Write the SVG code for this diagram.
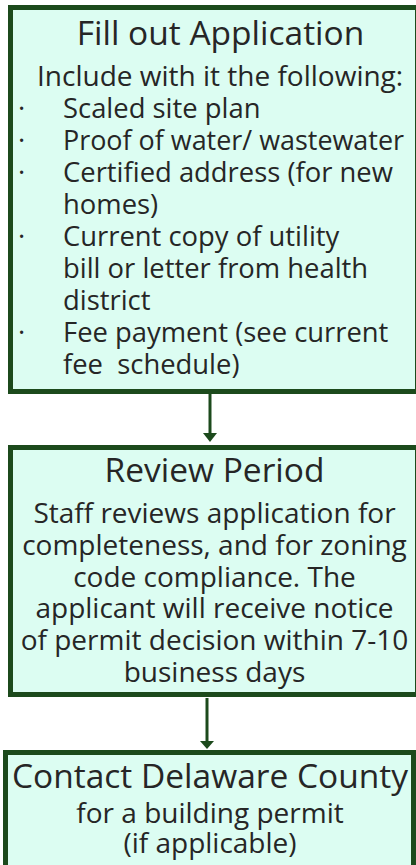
<svg xmlns="http://www.w3.org/2000/svg" width="416" height="865" viewBox="0 0 416 865">
  <style>
    .box { fill: #dcfdf2; stroke: #1c4a1c; stroke-width: 5; }
    .title { font-family: "Open Sans", "Liberation Sans", sans-serif; font-size: 33.5px; fill: #262626; text-anchor: middle; }
    .body { font-family: "Open Sans", "Liberation Sans", sans-serif; font-size: 28px; fill: #262626; }
    .li { font-size: 27.4px; }
    .c { text-anchor: middle; }
    .conn { stroke: #1c4a1c; stroke-width: 3; fill: none; }
    .head { fill: #1c4a1c; }
  </style>
  <rect width="416" height="865" fill="#ffffff"/>

  <g id="node-application">
    <rect class="box" x="10.5" y="7.5" width="407" height="384"/>
    <text class="title" x="220.5" y="45">Fill out Application</text>
    <text class="body" x="37" y="86">Include with it the following:</text>
    <text class="body li" x="18" y="118">·</text>
    <text class="body li" x="63" y="118">Scaled site plan</text>
    <text class="body li" x="18" y="150">·</text>
    <text class="body li" x="63" y="150" textLength="341" lengthAdjust="spacingAndGlyphs">Proof of water/ wastewater</text>
    <text class="body li" x="18" y="182">·</text>
    <text class="body li" x="63" y="182">Certified address (for new</text>
    <text class="body li" x="63" y="214">homes)</text>
    <text class="body li" x="18" y="246">·</text>
    <text class="body li" x="63" y="246">Current copy of utility</text>
    <text class="body li" x="63" y="278">bill or letter from health</text>
    <text class="body li" x="63" y="310">district</text>
    <text class="body li" x="18" y="342">·</text>
    <text class="body li" x="63" y="342">Fee payment (see current</text>
    <text class="body li" x="63" y="374" xml:space="preserve">fee  schedule)</text>
  </g>

  <g id="node-review">
    <rect class="box" x="10.5" y="447.5" width="407" height="247"/>
    <text class="title" x="214.5" y="482">Review Period</text>
    <text class="body c" x="214.5" y="523">Staff reviews application for</text>
    <text class="body c" x="214.5" y="555">completeness, and for zoning</text>
    <text class="body c" x="214.5" y="587">code compliance. The</text>
    <text class="body c" x="214.5" y="618">applicant will receive notice</text>
    <text class="body c" x="214.5" y="650">of permit decision within 7-10</text>
    <text class="body c" x="214.5" y="682">business days</text>
  </g>

  <g id="node-contact">
    <rect class="box" x="5.5" y="752.5" width="408" height="130"/>
    <text class="title" x="210" y="788">Contact Delaware County</text>
    <text class="body c" x="210" y="823">for a building permit</text>
    <text class="body c" x="210" y="853">(if applicable)</text>
  </g>

  <g id="connectors">
    <line class="conn" x1="210" y1="394" x2="210" y2="434"/>
    <path class="head" d="M203,433 L217,433 L210,442 Z"/>
    <line class="conn" x1="207" y1="698" x2="207" y2="742"/>
    <path class="head" d="M200,741 L214,741 L207,749 Z"/>
  </g>
</svg>
